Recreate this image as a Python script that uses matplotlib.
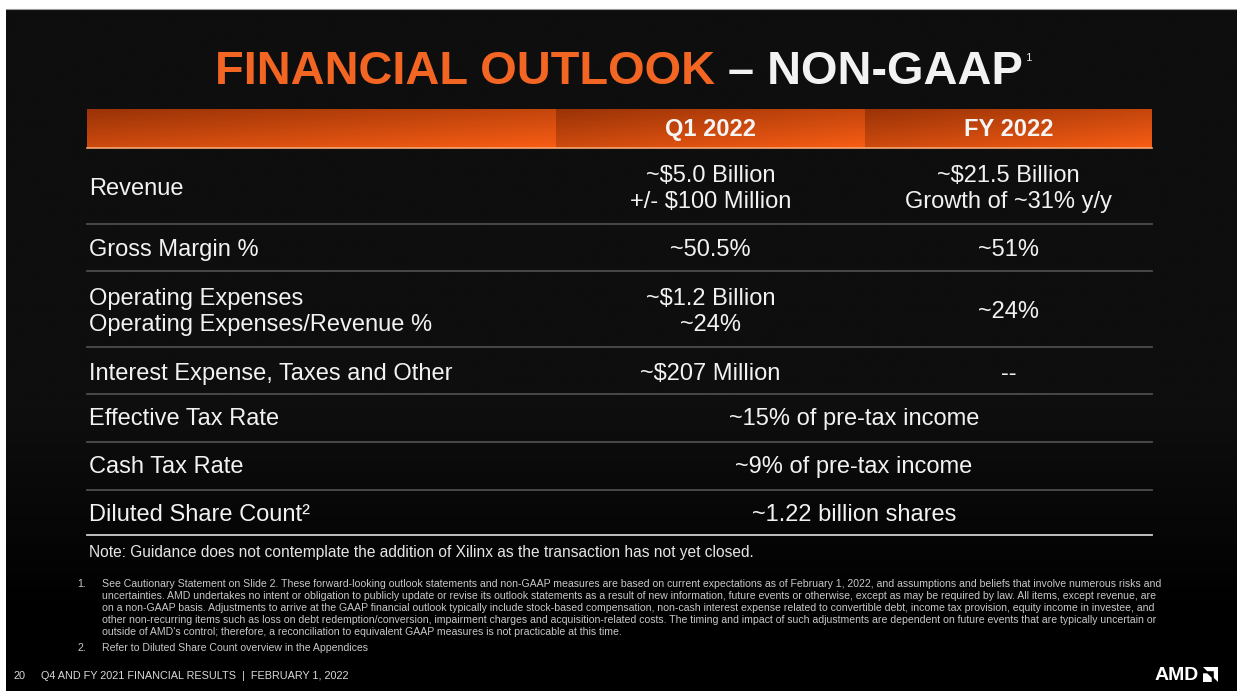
import matplotlib.pyplot as plt
import numpy as np
from matplotlib.patches import Polygon

# ---- table content ----
col_headers = ["Q1 2022", "FY 2022"]
row_labels = [
    "Revenue",
    "Gross Margin %",
    "Operating Expenses\nOperating Expenses/Revenue %",
    "Interest Expense, Taxes and Other",
    "Effective Tax Rate",
    "Cash Tax Rate",
    "Diluted Share Count\u00b2",
]
q1_values = [
    "~$5.0 Billion\n+/- $100 Million",
    "~50.5%",
    "~$1.2 Billion\n~24%",
    "~$207 Million",
    None,
    None,
    None,
]
fy_values = [
    "~$21.5 Billion\nGrowth of ~31% y/y",
    "~51%",
    "~24%",
    "--",
    None,
    None,
    None,
]
# rows where one value covers both columns
spanned_values = [
    None,
    None,
    None,
    None,
    "~15% of pre-tax income",
    "~9% of pre-tax income",
    "~1.22 billion shares",
]

note = "Note: Guidance does not contemplate the addition of Xilinx as the transaction has not yet closed."
footnote_1 = [
    "See Cautionary Statement on Slide 2. These forward-looking outlook statements and non-GAAP measures are based on current expectations as of February 1, 2022, and assumptions and beliefs that involve numerous risks and",
    "uncertainties. AMD undertakes no intent or obligation to publicly update or revise its outlook statements as a result of new information, future events or otherwise, except as may be required by law. All items, except revenue, are",
    "on a non-GAAP basis. Adjustments to arrive at the GAAP financial outlook typically include stock-based compensation, non-cash interest expense related to convertible debt, income tax provision, equity income in investee, and",
    "other non-recurring items such as loss on debt redemption/conversion, impairment charges and acquisition-related costs. The timing and impact of such adjustments are dependent on future events that are typically uncertain or",
    "outside of AMD's control; therefore, a reconciliation to equivalent GAAP measures is not practicable at this time.",
]
footnote_2 = "Refer to Diluted Share Count overview in the Appendices"
footer = "Q4 AND FY 2021 FINANCIAL RESULTS  |  FEBRUARY 1, 2022"
page_number = "20"

# ---- layout (pixel coordinates, y down) ----
W, H = 1237, 691
ORANGE = "#f26522"
TXT = "#f2f2f2"
FONT = "Liberation Sans"
BODY = 17
SMALL = 7.6

table_left, table_right = 87, 1152
col_edges = [87, 556, 865, 1152]
header_top, header_bottom = 109, 148
row_y = [189, 250, 312, 374, 419, 467, 515]
sep_y = [224, 271, 347, 394, 442, 490, 535]

fig = plt.figure(figsize=(W / 100, H / 100), dpi=100, facecolor="white")
ax = fig.add_axes([0, 0, 1, 1])
ax.set_axis_off()


def gradient_box(x0, x1, y0, y1, c_start, c_end, mode="diag"):
    c0 = np.array(plt.matplotlib.colors.to_rgb(c_start))
    c1 = np.array(plt.matplotlib.colors.to_rgb(c_end))
    u = np.linspace(0, 1, 120)[None, :]
    v = np.linspace(0, 1, 40)[:, None]
    if mode == "diag":
        t = 0.45 * u + 0.55 * v
    else:
        t = np.clip((v - 0.6) / 0.3, 0, 1) * np.ones_like(u)
    img = c0 + (c1 - c0) * t[:, :, None]
    ax.imshow(img, extent=(x0, x1, y1, y0), origin="upper",
              aspect="auto", interpolation="bilinear", zorder=1)


# slide background
gradient_box(6, W, 9, H, "#0e0e0e", "#000000", mode="vert")
ax.plot([6, W], [9, 9], color="#9a9a9a", lw=0.8, zorder=2)

# title
t1 = ax.text(215, 84, "FINANCIAL OUTLOOK", color=ORANGE, fontsize=33.8,
             fontweight="bold", family=FONT, va="baseline", ha="left", zorder=5)
t2 = ax.annotate(" \u2013 NON-GAAP", xy=(1, 0), xycoords=t1, color="#f2f2f2",
                 fontsize=33.8, fontweight="bold", family=FONT,
                 va="bottom", ha="left", zorder=5)
ax.annotate(" 1", xy=(1, 1), xycoords=t2, color="#e8e8e8", fontsize=8,
            family=FONT, va="top", ha="left", xytext=(0, -2),
            textcoords="offset points", zorder=5)

# header bar
for x0, x1 in zip(col_edges[:-1], col_edges[1:]):
    gradient_box(x0, x1, header_top, header_bottom, "#9a3307", "#f85d14")
ax.plot([table_left, table_right], [header_bottom, header_bottom],
        color="#f7a672", lw=1.2, zorder=3)
for i, h in enumerate(col_headers):
    xc = (col_edges[i + 1] + col_edges[i + 2]) / 2
    ax.text(xc, (header_top + header_bottom) / 2 + 1, h, color="#f5f5f5",
            fontsize=17, fontweight="bold", family=FONT,
            ha="center", va="center", zorder=5)

# rows
q1_x = (col_edges[1] + col_edges[2]) / 2
fy_x = (col_edges[2] + col_edges[3]) / 2
span_x = (col_edges[1] + col_edges[3]) / 2
for i, y in enumerate(row_y):
    ax.text(89, y, row_labels[i], color=TXT, fontsize=BODY, family=FONT,
            ha="left", va="center", linespacing=1.25, zorder=5)
    if q1_values[i] is not None:
        ax.text(q1_x, y, q1_values[i], color=TXT, fontsize=BODY, family=FONT,
                ha="center", va="center", linespacing=1.2, zorder=5)
    if fy_values[i] is not None:
        ax.text(fy_x, y, fy_values[i], color=TXT, fontsize=BODY, family=FONT,
                ha="center", va="center", linespacing=1.2, zorder=5)
    if spanned_values[i] is not None:
        ax.text(span_x, y, spanned_values[i], color=TXT, fontsize=BODY,
                family=FONT, ha="center", va="center", zorder=5)

for j, y in enumerate(sep_y):
    col = "#cfcfcf" if j == len(sep_y) - 1 else "#4d4d4d"
    ax.plot([table_left, table_right], [y, y], color=col, lw=1.3, zorder=3)

# note + footnotes
ax.text(89, 552, note, color="#e6e6e6", fontsize=11.2, family=FONT,
        ha="left", va="center", zorder=5)
fn_y = [584, 596, 608, 620, 632]
ax.text(77, fn_y[0], "1.", color="#c8c8c8", fontsize=SMALL, family=FONT,
        ha="left", va="center", zorder=5)
for line, y in zip(footnote_1, fn_y):
    ax.text(102, y, line, color="#c8c8c8", fontsize=SMALL, family=FONT,
            ha="left", va="center", zorder=5)
ax.text(77, 648, "2.", color="#c8c8c8", fontsize=SMALL, family=FONT,
        ha="left", va="center", zorder=5)
ax.text(102, 648, footnote_2, color="#c8c8c8", fontsize=SMALL, family=FONT,
        ha="left", va="center", zorder=5)

# footer
ax.text(14, 676, page_number, color="#d8d8d8", fontsize=7.8, family=FONT,
        ha="left", va="center", zorder=5)
ax.text(41, 676, footer, color="#d8d8d8", fontsize=7.8, family=FONT,
        ha="left", va="center", zorder=5)

# AMD logo
ax.text(1199, 675, "AMD", color="white", fontsize=14, fontweight="bold",
        family=FONT, ha="right", va="center", zorder=5)
lx0, ly0, s = 1203, 682, 15
big = [(0, 1), (1, 1), (1, 0), (0.72, 0.28), (0.72, 0.72), (0.28, 0.72)]
small = [(0, 0), (0, 0.58), (0.28, 0.58), (0.58, 0.28), (0.58, 0)]
for shape in (big, small):
    pts = [(lx0 + px * s, ly0 - py * s) for px, py in shape]
    ax.add_patch(Polygon(pts, closed=True, color="white", lw=0, zorder=5))

ax.set_xlim(0, W)
ax.set_ylim(H, 0)
fig.savefig("out.png", dpi=100, facecolor=fig.get_facecolor())
